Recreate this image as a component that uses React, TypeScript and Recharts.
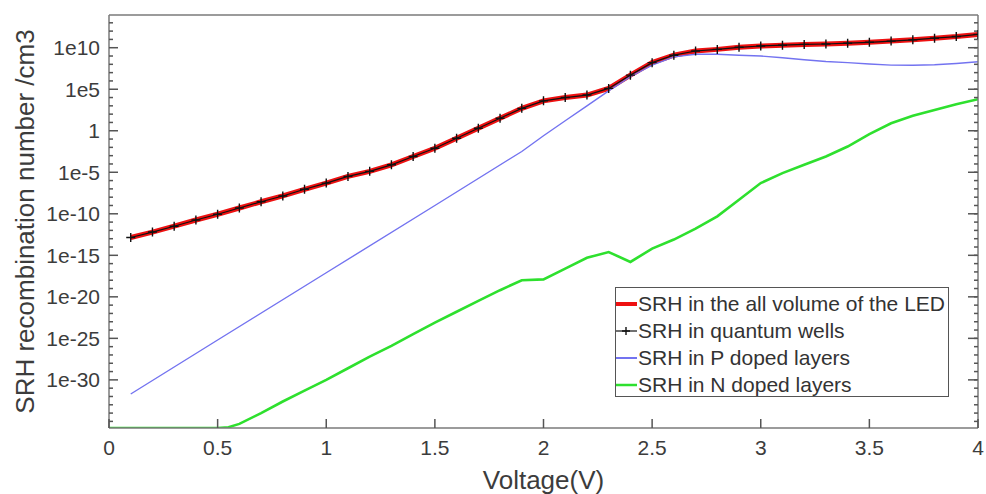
import { LineChart, Line, XAxis, YAxis, Legend } from "recharts";

const FONT = "'Liberation Sans', Arial, sans-serif";
const TEXT = "#3c3c3c";
const AXIS = "#7a7a7a";
const TICK = "#555555";

// quantum wells / whole volume share the same sampling (0.1 V steps)
const voltage = [
  0.1, 0.2, 0.3, 0.4, 0.5, 0.6, 0.7, 0.8, 0.9, 1.0,
  1.1, 1.2, 1.3, 1.4, 1.5, 1.6, 1.7, 1.8, 1.9, 2.0,
  2.1, 2.2, 2.3, 2.4, 2.5, 2.6, 2.7, 2.8, 2.9, 3.0,
  3.1, 3.2, 3.3, 3.4, 3.5, 3.6, 3.7, 3.8, 3.9, 4.0,
];
const srhTotal = [
  1.4e-13, 6.3e-13, 3.2e-12, 1.8e-11, 8.9e-11, 5.0e-10, 2.8e-9, 1.4e-8, 8.9e-8, 5.0e-7,
  3.2e-6, 1.3e-5, 7.9e-5, 7.9e-4, 7.9e-3, 0.126, 2.0, 32, 500, 4000,
  1.0e4, 2.0e4, 1.26e5, 5.0e6, 1.6e8, 1.26e9, 4.0e9, 6.3e9, 1.12e10, 1.6e10,
  2.0e10, 2.5e10, 2.8e10, 3.5e10, 4.5e10, 6.3e10, 8.9e10, 1.4e11, 2.2e11, 4.0e11,
];
const srhWells = [
  1.4e-13, 6.3e-13, 3.2e-12, 1.8e-11, 8.9e-11, 5.0e-10, 2.8e-9, 1.4e-8, 8.9e-8, 5.0e-7,
  3.2e-6, 1.3e-5, 7.9e-5, 7.9e-4, 7.9e-3, 0.126, 2.0, 32, 500, 4000,
  1.0e4, 2.0e4, 1.26e5, 5.0e6, 1.6e8, 1.26e9, 4.0e9, 6.3e9, 1.12e10, 1.6e10,
  2.0e10, 2.5e10, 2.8e10, 3.5e10, 4.5e10, 6.3e10, 8.9e10, 1.4e11, 2.2e11, 4.0e11,
];

const pVoltage = [
  0.1, 0.5, 1.0, 1.5, 1.9, 2.0, 2.1, 2.2, 2.3, 2.4, 2.5, 2.6, 2.7, 2.8, 2.9,
  3.0, 3.1, 3.2, 3.3, 3.4, 3.5, 3.6, 3.7, 3.8, 3.9, 4.0,
];
const srhP = [
  2.0e-32, 6.3e-26, 7.9e-18, 1.0e-9, 3.2e-3, 0.25, 16, 1000, 6.3e4, 3.2e6, 7.9e7, 7.9e8, 1.6e9, 1.6e9, 1.26e9,
  1.0e9, 6.3e8, 3.5e8, 2.2e8, 1.6e8, 1.1e8, 7.9e7, 7.6e7, 8.9e7, 1.26e8, 2.0e8,
];

const nVoltage = [
  0, 0.5, 0.55, 0.6, 0.7, 0.8, 0.9, 1.0, 1.1, 1.2, 1.3, 1.4, 1.5, 1.6, 1.7, 1.8, 1.9, 2.0,
  2.1, 2.2, 2.3, 2.4, 2.5, 2.6, 2.7, 2.8, 2.9, 3.0, 3.1, 3.2, 3.3, 3.4, 3.5, 3.6, 3.7, 3.8, 3.9, 4.0,
];
const srhN = [
  1.6e-36, 1.6e-36, 2.0e-36, 5.0e-36, 1.0e-34, 2.5e-33, 5.0e-32, 1.0e-30, 2.5e-29, 6.3e-28, 1.26e-26,
  3.2e-25, 7.9e-24, 1.6e-22, 3.2e-21, 6.3e-20, 1.0e-18, 1.26e-18,
  2.5e-17, 5.0e-16, 2.5e-15, 1.6e-16, 6.3e-15, 7.9e-14, 1.6e-12, 5.0e-11, 5.0e-9, 5.0e-7,
  7.9e-6, 7.9e-5, 7.9e-4, 0.0126, 0.4, 7.9, 63, 316, 1600, 6300,
];

const seriesNames = [
  "SRH in the all volume of the LED",
  "SRH in quantum wells",
  "SRH in P doped layers",
  "SRH in N doped layers",
];

const xTicks = [0, 0.5, 1, 1.5, 2, 2.5, 3, 3.5, 4];
const yTicks = [1e-30, 1e-25, 1e-20, 1e-15, 1e-10, 1e-5, 1, 1e5, 1e10];
const yMinorTicks = [
  1e-35, 1e-34, 1e-33, 1e-32, 1e-31, 1e-30, 1e-29, 1e-28, 1e-27, 1e-26,
  1e-25, 1e-24, 1e-23, 1e-22, 1e-21, 1e-20, 1e-19, 1e-18, 1e-17, 1e-16,
  1e-15, 1e-14, 1e-13, 1e-12, 1e-11, 1e-10, 1e-9, 1e-8, 1e-7, 1e-6,
  1e-5, 1e-4, 1e-3, 1e-2, 1e-1, 1, 1e1, 1e2, 1e3, 1e4,
  1e5, 1e6, 1e7, 1e8, 1e9, 1e10, 1e11, 1e12, 1e13,
];
const yDomain = [1.6e-36, 8.7e13];

const totalData = voltage.map((v, i) => ({ v, y: srhTotal[i] }));
const wellsData = voltage.map((v, i) => ({ v, y: srhWells[i] }));
const pData = pVoltage.map((v, i) => ({ v, y: srhP[i] }));
const nData = nVoltage.map((v, i) => ({ v, y: srhN[i] }));

const decade = (v: number) => Math.round(Math.log10(v));
const fmtPow = (v: number) => (decade(v) === 0 ? "1" : `1e${decade(v)}`);
const majorDecades = yTicks.map(decade);

// ticks point into the plot, matlab style
const BottomTick = ({ x, y, payload }: any) => (
  <g>
    <line x1={x} x2={x} y1={y} y2={y - 9} stroke={TICK} strokeWidth={1.5} />
    <text x={x} y={y + 27} textAnchor="middle" fill={TEXT} fontSize={21} fontFamily={FONT}>
      {String(payload.value)}
    </text>
  </g>
);

const TopTick = ({ x, y }: any) => <line x1={x} x2={x} y1={y} y2={y + 9} stroke={TICK} strokeWidth={1.5} />;

const LeftTick = ({ x, y, payload }: any) => {
  const major = majorDecades.includes(decade(payload.value));
  return (
    <g>
      <line x1={x} x2={x + (major ? 9 : 4)} y1={y} y2={y} stroke={TICK} strokeWidth={1.5} />
      {major && (
        <text x={x - 9} y={y} dy="0.36em" textAnchor="end" fill={TEXT} fontSize={21} fontFamily={FONT}>
          {fmtPow(payload.value)}
        </text>
      )}
    </g>
  );
};

const PlusDot = (props: any) => {
  const { cx, cy, index } = props;
  if (cx == null || cy == null) return <g key={`d${index}`} />;
  return (
    <path
      key={`d${index}`}
      d={`M${cx - 4.5},${cy}H${cx + 4.5}M${cx},${cy - 4.5}V${cy + 4.5}`}
      stroke="#111"
      strokeWidth={1.4}
    />
  );
};

const widths: Record<string, number> = {
  "SRH in the all volume of the LED": 4,
  "SRH in quantum wells": 1.2,
  "SRH in P doped layers": 2,
  "SRH in N doped layers": 2.5,
};

const LegendBox = ({ payload }: any) => {
  const items = [...(payload || [])].sort(
    (a: any, b: any) => seriesNames.indexOf(a.value) - seriesNames.indexOf(b.value)
  );
  return (
    <div
      style={{
        border: "1px solid #555",
        background: "#fff",
        boxSizing: "border-box",
        height: 110,
        paddingTop: 2,
        fontFamily: FONT,
        fontSize: 21,
        color: "#333",
      }}
    >
      {items.map((p: any) => (
        <div key={p.value} style={{ display: "flex", alignItems: "center", height: 27, whiteSpace: "nowrap" }}>
          <svg width={22} height={12} style={{ flex: "none" }}>
            <line x1={0} x2={21} y1={6} y2={6} stroke={p.color} strokeWidth={widths[p.value] || 2} />
            {p.value === seriesNames[1] && <path d="M6,6H14M10,2V10" stroke="#111" strokeWidth={1.4} />}
          </svg>
          <span>{p.value}</span>
        </div>
      ))}
    </div>
  );
};

export default function App() {
  return (
    <div style={{ position: "absolute", left: 0, top: 0, background: "#fff" }}>
      <LineChart width={986} height={494} margin={{ top: 0, right: 8, bottom: 0, left: 0 }}>
        <XAxis
          xAxisId="x"
          dataKey="v"
          type="number"
          domain={[0, 4]}
          ticks={xTicks}
          interval={0}
          allowDataOverflow
          height={66}
          tickSize={0}
          tickMargin={0}
          tickLine={false}
          axisLine={{ stroke: AXIS, strokeWidth: 1.5 }}
          tick={<BottomTick />}
          label={{ value: "Voltage(V)", position: "insideBottom", offset: 5, fill: TEXT, fontSize: 26, fontFamily: FONT }}
        />
        <XAxis
          xAxisId="top"
          orientation="top"
          type="number"
          domain={[0, 4]}
          ticks={xTicks}
          interval={0}
          allowDataOverflow
          height={15}
          tickSize={0}
          tickMargin={0}
          tickLine={false}
          axisLine={{ stroke: AXIS, strokeWidth: 1.5 }}
          tick={<TopTick />}
        />
        <YAxis
          yAxisId="y"
          type="number"
          scale="log"
          domain={yDomain}
          allowDataOverflow
          ticks={yMinorTicks}
          interval={0}
          width={109}
          tickSize={0}
          tickMargin={0}
          tickLine={false}
          axisLine={{ stroke: AXIS, strokeWidth: 1.5 }}
          tick={<LeftTick />}
          label={{
            content: ({ viewBox }: any) => {
              const x = viewBox.x + 25;
              const y = viewBox.y + viewBox.height / 2;
              return (
                <text
                  x={x}
                  y={y}
                  transform={`rotate(-90 ${x} ${y})`}
                  textAnchor="middle"
                  dominantBaseline="central"
                  fill={TEXT}
                  fontSize={26}
                  fontFamily={FONT}
                >
                  SRH recombination number /cm3
                </text>
              );
            },
          }}
        />
        <YAxis
          yAxisId="right"
          orientation="right"
          mirror
          type="number"
          scale="log"
          domain={yDomain}
          allowDataOverflow
          ticks={yMinorTicks}
          interval={0}
          width={1}
          stroke={TICK}
          tickSize={4}
          tickLine={{ strokeWidth: 1.5 }}
          axisLine={{ stroke: AXIS, strokeWidth: 1.5 }}
          tickFormatter={() => ""}
        />
        <YAxis
          yAxisId="rightMajor"
          orientation="right"
          mirror
          type="number"
          scale="log"
          domain={yDomain}
          allowDataOverflow
          ticks={yTicks}
          interval={0}
          width={1}
          stroke={TICK}
          tickSize={9}
          tickLine={{ strokeWidth: 1.5 }}
          axisLine={false}
          tickFormatter={() => ""}
        />
        <Legend
          layout="horizontal"
          verticalAlign="middle"
          align="center"
          wrapperStyle={{ left: 615, top: 287, width: 334, height: 110 }}
          content={<LegendBox />}
        />
        <Line
          xAxisId="x"
          yAxisId="y"
          data={totalData}
          dataKey="y"
          name={seriesNames[0]}
          type="linear"
          stroke="#ee1111"
          strokeWidth={5}
          dot={false}
          isAnimationActive={false}
        />
        <Line
          xAxisId="x"
          yAxisId="y"
          data={wellsData}
          dataKey="y"
          name={seriesNames[1]}
          type="linear"
          stroke="#111111"
          strokeWidth={1.2}
          dot={PlusDot}
          isAnimationActive={false}
        />
        <Line
          xAxisId="x"
          yAxisId="y"
          data={pData}
          dataKey="y"
          name={seriesNames[2]}
          type="linear"
          stroke="#7373f0"
          strokeWidth={1.4}
          dot={false}
          isAnimationActive={false}
        />
        <Line
          xAxisId="x"
          yAxisId="y"
          data={nData}
          dataKey="y"
          name={seriesNames[3]}
          type="linear"
          stroke="#2ee02e"
          strokeWidth={2.6}
          dot={false}
          isAnimationActive={false}
        />
      </LineChart>
    </div>
  );
}
